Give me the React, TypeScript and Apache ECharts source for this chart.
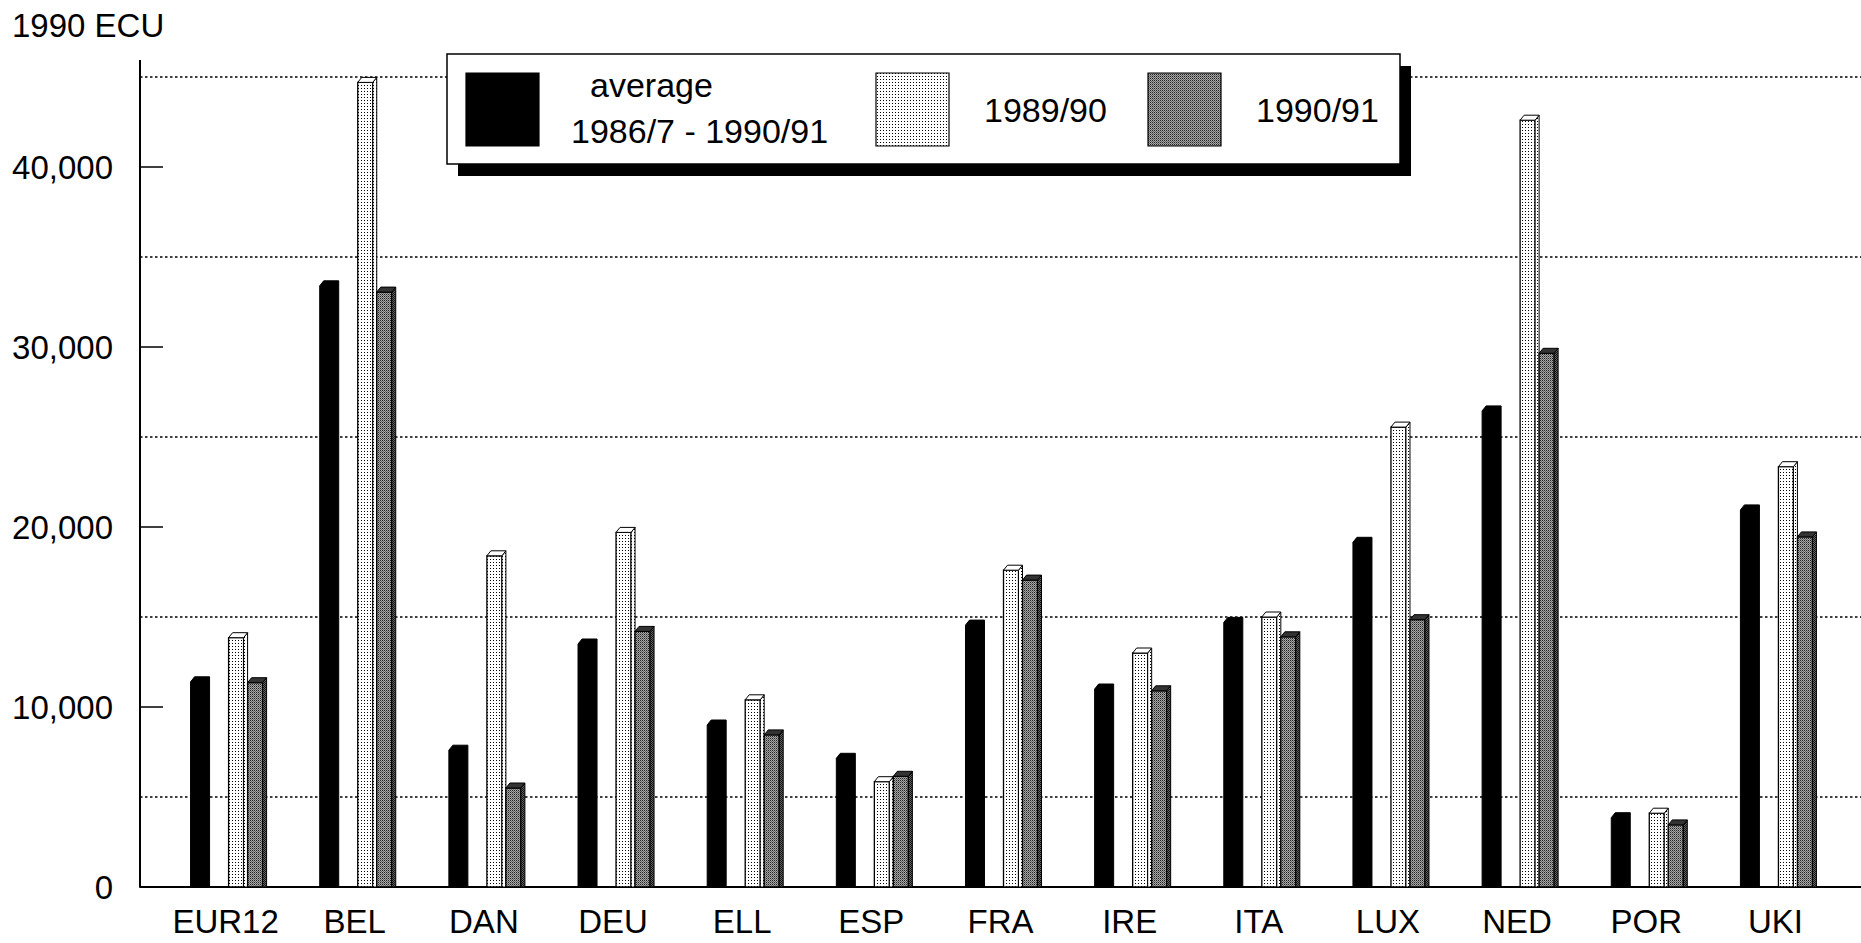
import React, { useEffect, useRef } from 'react';
import * as echarts from 'echarts';

const categories = ['EUR12', 'BEL', 'DAN', 'DEU', 'ELL', 'ESP', 'FRA', 'IRE', 'ITA', 'LUX', 'NED', 'POR', 'UKI'];
const averageValues = [11400, 33400, 7600, 13500, 9000, 7150, 14550, 11000, 14700, 19150, 26450, 3850, 20950];
const values1989 = [13850, 44700, 18400, 19700, 10400, 5850, 17600, 13000, 15000, 25550, 42600, 4100, 23350];
const values1990 = [11350, 33050, 5500, 14200, 8450, 6150, 17050, 10900, 13900, 14850, 29650, 3450, 19450];
const seriesNames = ['average 1986/7 - 1990/91', '1989/90', '1990/91'];
const legendLines = [['average', '1986/7 - 1990/91'], ['1989/90'], ['1990/91']];
const yUnit = '1990 ECU';
const yMax = 45000;
const labelStep = 10000;
const gridStart = 5000;

const FONT = "'Liberation Sans', Arial, Helvetica, sans-serif";
const PLOT_TOP = 77;
const PLOT_BOTTOM = 887;
const H = 943;
const BAND_REF = 129.1;

function fmt(v: number) {
  return v.toLocaleString('en-US');
}

function makePattern(w: number, h: number, draw: (ctx: CanvasRenderingContext2D) => void) {
  const c = document.createElement('canvas');
  c.width = w;
  c.height = h;
  const ctx = c.getContext('2d') as CanvasRenderingContext2D;
  draw(ctx);
  return { image: c.toDataURL(), repeat: 'repeat', imageWidth: w, imageHeight: h } as any;
}

export default function App() {
  const ref = useRef<HTMLDivElement>(null);
  useEffect(() => {
    if (!ref.current) return;
    const chart = echarts.init(ref.current, null, { renderer: 'svg' });

    const dotPattern = makePattern(3, 3, (ctx) => {
      ctx.fillStyle = '#fff';
      ctx.fillRect(0, 0, 3, 3);
      ctx.fillStyle = '#000';
      ctx.fillRect(1, 1, 1, 1);
    });
    const greyPattern = makePattern(2, 2, (ctx) => {
      ctx.fillStyle = '#a8a8a8';
      ctx.fillRect(0, 0, 2, 2);
      ctx.fillStyle = '#222';
      ctx.fillRect(0, 0, 1, 1);
      ctx.fillStyle = '#666';
      ctx.fillRect(1, 1, 1, 1);
    });
    const darkGreyPattern = makePattern(2, 2, (ctx) => {
      ctx.fillStyle = '#666';
      ctx.fillRect(0, 0, 2, 2);
      ctx.fillStyle = '#111';
      ctx.fillRect(0, 0, 1, 1);
      ctx.fillRect(1, 1, 1, 1);
    });

    const pxPer = (PLOT_BOTTOM - PLOT_TOP) / yMax;
    const yPix = (v: number) => PLOT_BOTTOM - v * pxPer;

    const makeRender = (kind: number) => (params: any, api: any) => {
      const i = api.value(0);
      const v = api.value(1);
      const top = api.coord([i, v]);
      const base = api.coord([i, 0]);
      const band = api.size([1, 0])[0];
      const k = band / BAND_REF;
      const cx = top[0];
      const yt = top[1];
      const yb = base[1];
      const dx = 4 * k;
      const dy = 5;
      const fw = 15 * k;
      if (kind === 0) {
        const x0 = cx - 35 * k;
        const x1 = x0 + fw;
        return {
          type: 'polygon',
          shape: { points: [[x0, yb], [x0, yt], [x0 + dx, yt - dy], [x1 + dx, yt - dy], [x1 + dx, yb]] },
          style: { fill: '#000', stroke: '#000', lineWidth: 1 },
        };
      }
      const x0 = kind === 1 ? cx + 3 * k : cx + 22 * k;
      const x1 = x0 + fw;
      const frontFill = kind === 1 ? dotPattern : greyPattern;
      const sideFill = kind === 1 ? dotPattern : darkGreyPattern;
      const topFill = kind === 1 ? '#fff' : '#333';
      return {
        type: 'group',
        children: [
          {
            type: 'rect',
            shape: { x: x0, y: yt, width: x1 - x0, height: yb - yt },
            style: { fill: frontFill, stroke: '#000', lineWidth: 1.3 },
          },
          {
            type: 'polygon',
            shape: { points: [[x1, yt], [x1 + dx, yt - dy], [x1 + dx, yb], [x1, yb]] },
            style: { fill: sideFill, stroke: '#000', lineWidth: 1 },
          },
          {
            type: 'polygon',
            shape: { points: [[x0, yt], [x0 + dx, yt - dy], [x1 + dx, yt - dy], [x1, yt]] },
            style: { fill: topFill, stroke: '#000', lineWidth: 1 },
          },
        ],
      };
    };

    const allValues = [averageValues, values1989, values1990];
    const series = allValues.map((vals, s) => ({
      type: 'custom',
      name: seriesNames[s],
      xAxisIndex: 0,
      yAxisIndex: 0,
      encode: { x: 0, y: 1 },
      data: vals.map((v, i) => [i, v]),
      renderItem: makeRender(s),
      z: 3,
    }));

    const swatchFills = ['#000', dotPattern, greyPattern];
    const swatchX = [466, 876, 1148];
    const textSpecs = [
      [{ x: 590, y: 85 }, { x: 571, y: 131 }],
      [{ x: 984, y: 110 }],
      [{ x: 1256, y: 110 }],
    ];
    const legendEls: any[] = [
      { type: 'rect', shape: { x: 458, y: 66, width: 953, height: 110 }, style: { fill: '#000' }, z: 10 },
      { type: 'rect', shape: { x: 447, y: 54, width: 953, height: 110 }, style: { fill: '#fff', stroke: '#000', lineWidth: 1.5 }, z: 11 },
    ];
    legendLines.forEach((lines, s) => {
      legendEls.push({
        type: 'rect',
        shape: { x: swatchX[s], y: 73, width: 73, height: 73 },
        style: { fill: swatchFills[s], stroke: '#000', lineWidth: 1.2 },
        z: 12,
      });
      lines.forEach((t, j) => {
        legendEls.push({
          type: 'text',
          x: textSpecs[s][j].x,
          y: textSpecs[s][j].y,
          style: { text: t, font: `34px ${FONT}`, fill: '#000', textAlign: 'left', textVerticalAlign: 'middle' },
          z: 12,
        });
      });
    });
    legendEls.push({
      type: 'line',
      shape: { x1: 140, y1: 60, x2: 140, y2: PLOT_BOTTOM },
      style: { stroke: '#000', lineWidth: 2 },
      z: 5,
    });

    const labelMax = Math.floor(yMax / labelStep) * labelStep;

    chart.setOption({
      animation: false,
      backgroundColor: '#fff',
      title: {
        text: yUnit,
        left: 12,
        top: 9,
        padding: 0,
        textStyle: { fontFamily: FONT, fontSize: 33, fontWeight: 'normal', color: '#000' },
      },
      grid: [
        { left: 161, right: 21, top: PLOT_TOP, bottom: H - PLOT_BOTTOM },
        { left: 140, right: 0, top: PLOT_TOP, bottom: H - yPix(gridStart) },
        { left: 140, right: 0, top: yPix(labelMax), bottom: H - PLOT_BOTTOM },
      ],
      xAxis: [
        {
          gridIndex: 0,
          type: 'category',
          data: categories,
          axisLine: { show: false },
          axisTick: { show: false },
          axisLabel: { interval: 0, margin: 18, fontFamily: FONT, fontSize: 33, color: '#000' },
          splitLine: { show: false },
        },
        { gridIndex: 1, type: 'value', min: 0, max: 1, show: false },
        {
          gridIndex: 2,
          type: 'value',
          min: 0,
          max: 1,
          axisLine: { show: true, lineStyle: { color: '#000', width: 2 } },
          axisTick: { show: false },
          axisLabel: { show: false },
          splitLine: { show: false },
        },
      ],
      yAxis: [
        { gridIndex: 0, type: 'value', min: 0, max: yMax, show: false },
        {
          gridIndex: 1,
          type: 'value',
          min: gridStart,
          max: yMax,
          interval: labelStep,
          axisLine: { show: false },
          axisTick: { show: false },
          axisLabel: { show: false },
          splitLine: { show: true, lineStyle: { color: '#000', width: 1.5, type: [2.5, 2.5] } },
        },
        {
          gridIndex: 2,
          type: 'value',
          min: 0,
          max: labelMax,
          interval: labelStep,
          axisLine: { show: false },
          axisTick: { show: true, inside: true, length: 23, lineStyle: { color: '#000', width: 1.5 } },
          axisLabel: { margin: 27, fontFamily: FONT, fontSize: 33, color: '#000', formatter: (v: number) => fmt(v) },
          splitLine: { show: false },
        },
      ],
      graphic: legendEls,
      series,
    } as any);

    return () => chart.dispose();
  }, []);

  return (
    <div
      ref={ref}
      style={{ position: 'fixed', left: 0, top: 0, width: 1861, height: 943, background: '#fff' }}
    />
  );
}
